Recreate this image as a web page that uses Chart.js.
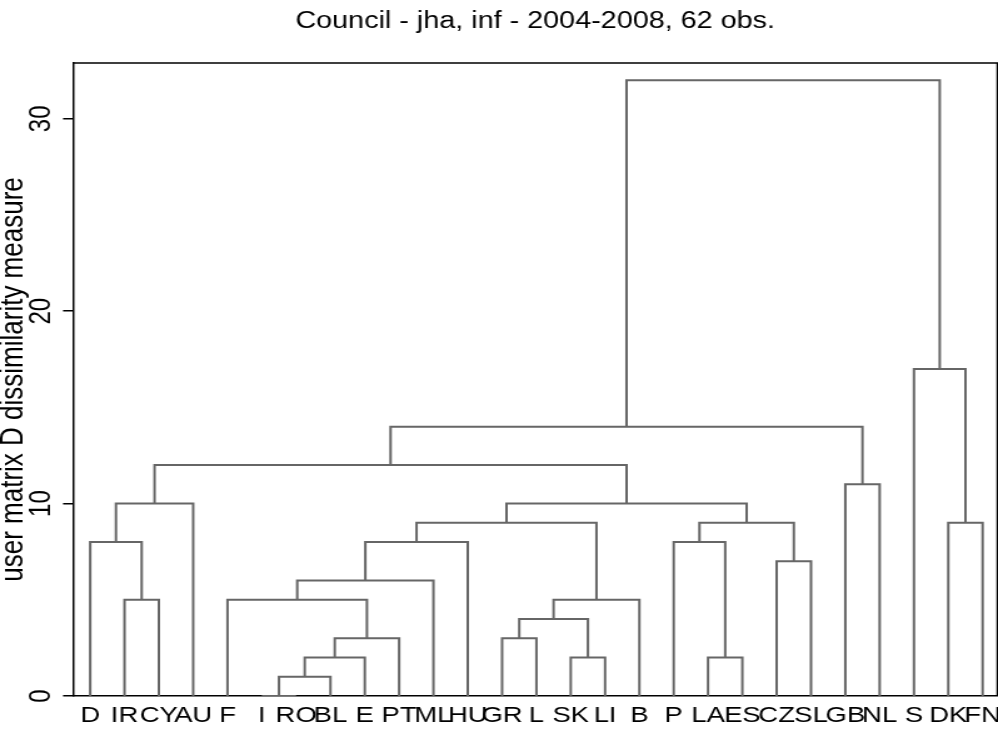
<!DOCTYPE html>
<html>
<head>
<meta charset="utf-8">
<script src="https://cdn.jsdelivr.net/npm/chart.js@4.4.1/dist/chart.umd.min.js"></script>
<style>
  html, body { margin: 0; padding: 0; background: #fff; }
</style>
</head>
<body>
<!-- the reference graph is stretched sideways, so the canvas is drawn
     narrower (798px) and widened to 998px by its inline style -->
<canvas id="dendro" width="798" height="731" style="display:block;width:998px;height:731px"></canvas>
<script>
// leaves in the order they sit along the x axis
const leaves = ['D', 'IR', 'CY', 'AU', 'F', 'I', 'RO', 'BL', 'E', 'PT', 'ML', 'HU', 'GR', 'L',
                'SK', 'LI', 'B', 'P', 'LA', 'ES', 'CZ', 'SL', 'GB', 'NL', 'S', 'DK', 'FN'];

// merges: left child, right child, height ("m3" = result of merge 3)
const mergeLeft   = ['I', 'm0', 'm1', 'm2', 'F', 'm4', 'm5', 'GR', 'SK', 'm7', 'm9', 'm6', 'LA',
                     'P', 'CZ', 'm13', 'm11', 'IR', 'D', 'm18', 'm19', 'GB', 'm20', 'DK', 'S', 'm22'];
const mergeRight  = ['RO', 'BL', 'E', 'PT', 'm3', 'ML', 'HU', 'L', 'LI', 'm8', 'B', 'm10', 'ES',
                     'm12', 'SL', 'm14', 'm15', 'CY', 'm17', 'AU', 'm16', 'NL', 'm21', 'FN', 'm23', 'm24'];
const mergeHeight = [0, 1, 2, 3, 5, 6, 8, 3, 2, 4, 5, 9, 2,
                     8, 7, 9, 10, 5, 8, 10, 12, 11, 14, 9, 17, 32];

const yTicks = [0, 10, 20, 30];

const FONT = 'Liberation Sans, Arial, Helvetica, sans-serif';
const LINK_COLOR = '#666666';

// each merge becomes one U-shaped link
const pos = {};
const hgt = {};
leaves.forEach((name, i) => { pos[name] = i + 1; hgt[name] = 0; });

const links = mergeHeight.map((h, i) => {
    const a = mergeLeft[i];
    const b = mergeRight[i];
    pos['m' + i] = (pos[a] + pos[b]) / 2;
    hgt['m' + i] = h;
    return [
        { x: pos[a], y: hgt[a] },
        { x: pos[a], y: h },
        { x: pos[b], y: h },
        { x: pos[b], y: hgt[b] }
    ];
});

// top and right edges of the plot box
const frameBox = {
    id: 'frameBox',
    afterDraw(chart) {
        const { ctx, chartArea: a } = chart;
        ctx.save();
        ctx.strokeStyle = '#000';
        ctx.lineWidth = 1.5;
        ctx.beginPath();
        ctx.moveTo(a.left, a.top);
        ctx.lineTo(a.right, a.top);
        ctx.lineTo(a.right, a.bottom);
        ctx.stroke();
        ctx.restore();
    }
};

new Chart(document.getElementById('dendro'), {
    type: 'scatter',
    data: {
        datasets: links.map(d => ({
            data: d,
            showLine: true,
            borderColor: LINK_COLOR,
            borderWidth: 2,
            borderJoinStyle: 'miter',
            pointRadius: 0,
            pointHoverRadius: 0,
            tension: 0
        }))
    },
    options: {
        responsive: false,
        devicePixelRatio: 1,
        animation: false,
        events: [],
        layout: { padding: { left: 0, right: 0.5, top: 0, bottom: 0 } },
        plugins: {
            legend: { display: false },
            tooltip: { enabled: false },
            title: {
                display: true,
                fullSize: false,
                text: 'Council - jha, inf - 2004-2008, 62 obs.',
                color: '#000',
                font: { family: FONT, size: 23, weight: 'normal' },
                padding: { top: 8, bottom: 27.4 }
            }
        },
        scales: {
            x: {
                type: 'linear',
                min: 0.5,
                max: 27.43,
                afterBuildTicks: scale => {
                    scale.ticks = leaves.map((l, i) => ({ value: i + 1 }));
                },
                afterFit: scale => {
                    scale.height = 35;
                    scale.paddingLeft = 0;
                    scale.paddingRight = 0;
                },
                ticks: {
                    autoSkip: false,
                    maxRotation: 0,
                    minRotation: 0,
                    padding: 7,
                    color: '#000',
                    font: { family: FONT, size: 22 },
                    callback: v => leaves[v - 1]
                },
                grid: { display: false, drawTicks: false },
                border: { display: true, color: '#000', width: 1.5 }
            },
            y: {
                type: 'linear',
                min: 0,
                max: 32.9,
                afterBuildTicks: scale => {
                    scale.ticks = yTicks.map(v => ({ value: v }));
                },
                afterFit: scale => {
                    scale.width = 58.4;
                    scale.paddingTop = 0;
                    scale.paddingBottom = 0;
                },
                ticks: {
                    minRotation: 90,
                    maxRotation: 90,
                    crossAlign: 'center',
                    padding: 4,
                    color: '#000',
                    font: { family: FONT, size: 24 }
                },
                grid: {
                    drawOnChartArea: false,
                    drawTicks: true,
                    tickLength: 8,
                    color: '#000',
                    lineWidth: 1.5
                },
                border: { display: true, color: '#000', width: 1.5 },
                title: {
                    display: true,
                    text: 'user matrix D dissimilarity measure',
                    color: '#000',
                    font: { family: FONT, size: 26, lineHeight: 0.8 },
                    padding: { top: 0, bottom: 0 }
                }
            }
        }
    },
    plugins: [frameBox]
});
</script>
</body>
</html>
